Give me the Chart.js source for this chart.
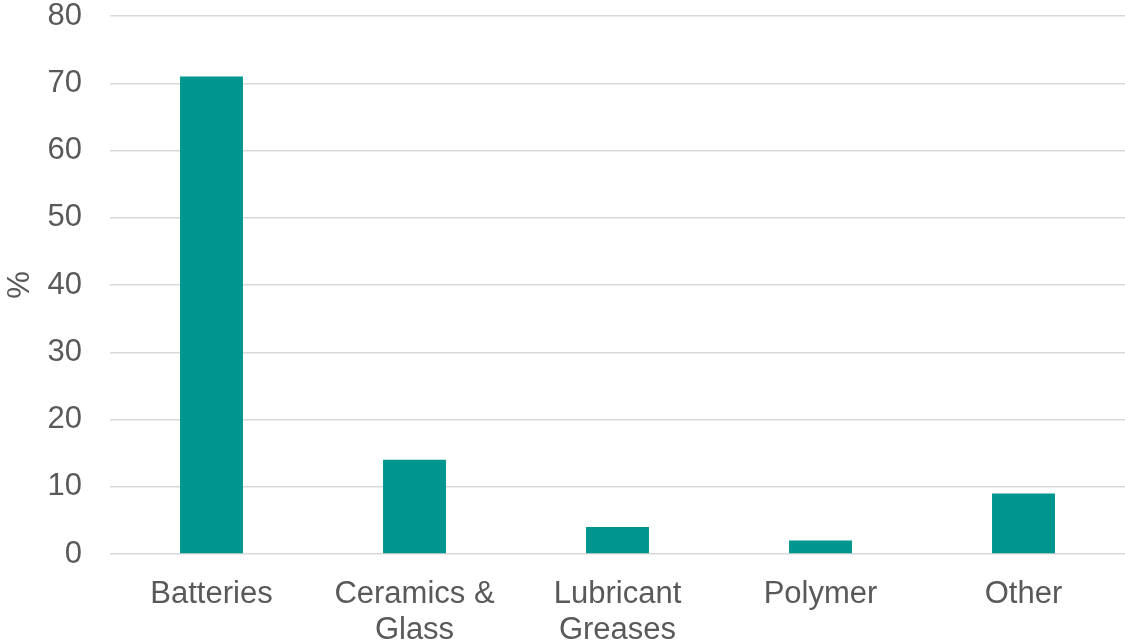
<!DOCTYPE html>
<html>
<head>
<meta charset="utf-8">
<script src="https://cdn.jsdelivr.net/npm/chart.js@4/dist/chart.umd.min.js"></script>
<style>
  html, body { margin: 0; padding: 0; background: #fff; }
  #wrap { width: 1125px; height: 644px; position: relative; }
</style>
</head>
<body>
<div id="wrap"><canvas id="uses"></canvas></div>
<script>
// Share of end uses, in percent
const categories = ['Batteries', ['Ceramics &', 'Glass'], ['Lubricant', 'Greases'], 'Polymer', 'Other'];
const shares = [71, 14, 4, 2, 9];
const yTicks = { min: 0, max: 80, step: 10 };

const textColor = '#595959';
const gridColor = '#d9d9d9';
const barColor = '#00968f';
const font = { family: "'Liberation Sans', Arial, sans-serif", size: 31 };

Chart.defaults.font.family = font.family;
Chart.defaults.color = textColor;

new Chart(document.getElementById('uses'), {
    type: 'bar',
    data: {
        labels: categories,
        datasets: [{
            data: shares,
            backgroundColor: barColor,
            borderWidth: 0,
            categoryPercentage: 1,
            barPercentage: 0.31
        }]
    },
    options: {
        responsive: true,
        maintainAspectRatio: false,
        animation: false,
        layout: { padding: 0 },
        plugins: {
            legend: { display: false },
            tooltip: { enabled: false }
        },
        scales: {
            x: {
                grid: { display: false },
                border: { display: false },
                ticks: {
                    color: textColor,
                    font: { size: font.size, lineHeight: 36 / 31 },
                    padding: 14,
                    maxRotation: 0,
                    autoSkip: false
                },
                // fixed band for the two-line category labels
                afterFit: (scale) => {
                    scale.height = 90;
                    scale.paddingLeft = 0;
                    scale.paddingRight = 0;
                }
            },
            y: {
                min: yTicks.min,
                max: yTicks.max,
                border: { display: false },
                grid: { color: gridColor, lineWidth: 1.5, drawTicks: false },
                ticks: {
                    stepSize: yTicks.step,
                    color: textColor,
                    font: { size: font.size },
                    padding: 28
                },
                title: {
                    display: true,
                    text: '%',
                    color: textColor,
                    font: { size: font.size },
                    padding: { top: 2, bottom: 8 }
                },
                afterFit: (scale) => {
                    scale.width = 110;
                    scale.paddingTop = 16;
                    scale.paddingBottom = 0;
                }
            }
        }
    }
});
</script>
</body>
</html>
